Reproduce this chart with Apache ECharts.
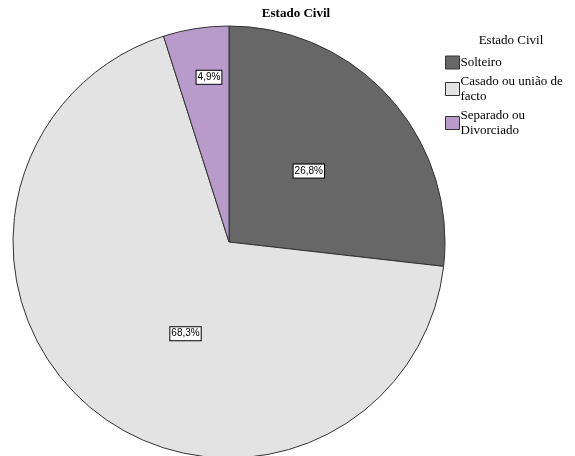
<!DOCTYPE html>
<html>
<head>
<meta charset="utf-8">
<script src="https://cdn.jsdelivr.net/npm/echarts@6/dist/echarts.min.js"></script>
<style>
  html, body { margin: 0; padding: 0; background: #ffffff; }
  #chart { width: 575px; height: 456px; }
</style>
</head>
<body>
<div id="chart"></div>
<script>
// Marital status breakdown (percent of respondents)
const categories = ['Solteiro', 'Casado ou união de facto', 'Separado ou Divorciado'];
const values = [26.8, 68.3, 4.9];
const legendLabels = ['Solteiro', 'Casado ou união de\nfacto', 'Separado ou\nDivorciado'];
const sliceColors = ['#676767', '#e3e3e3', '#b89bcb'];
// fine adjustments of each value label relative to the slice's inner point
const labelShift = [[-3, 3], [27, 6], [-3, -55]];

const chart = echarts.init(document.getElementById('chart'), null, { renderer: 'canvas' });

const serif = '"Liberation Serif", "Times New Roman", serif';
const sans = '"Liberation Sans", Arial, sans-serif';

chart.setOption({
  animation: false,
  backgroundColor: '#ffffff',
  title: [
    {
      text: 'Estado Civil',
      left: 296, top: 7, textAlign: 'center', padding: 0,
      textStyle: { fontFamily: serif, fontWeight: 'bold', fontSize: 13, color: '#000' }
    },
    {
      text: 'Estado Civil',
      left: 511, top: 34, textAlign: 'center', padding: 0,
      textStyle: { fontFamily: serif, fontWeight: 'normal', fontSize: 13, color: '#000' }
    }
  ],
  legend: {
    orient: 'vertical',
    left: 445, top: 55,
    padding: 0,
    itemWidth: 14, itemHeight: 13, itemGap: 4,
    icon: 'rect',
    data: categories,
    formatter: function (name) {
      return legendLabels[categories.indexOf(name)];
    },
    textStyle: { fontFamily: serif, fontSize: 13, lineHeight: 15, color: '#000', padding: [0, 0, 0, -4] },
    itemStyle: { borderColor: '#333', borderWidth: 1 }
  },
  series: [{
    type: 'pie',
    center: [229, 242],
    radius: 216,
    startAngle: 90,
    clockwise: true,
    selectedMode: false,
    silent: true,
    data: categories.map((c, i) => ({ name: c, value: values[i], itemStyle: { color: sliceColors[i] } })),
    itemStyle: { borderColor: '#333', borderWidth: 1 },
    label: {
      position: 'inside',
      formatter: function (p) { return values[p.dataIndex].toFixed(1).replace('.', ',') + '%'; },
      fontFamily: sans, fontSize: 10, color: '#000',
      backgroundColor: '#fff', borderColor: '#000', borderWidth: 1,
      padding: [2, 1, 1, 1]
    },
    labelLine: { show: false },
    labelLayout: function (p) {
      const s = labelShift[p.dataIndex];
      return { dx: s[0], dy: s[1] };
    }
  }]
});
</script>
</body>
</html>
